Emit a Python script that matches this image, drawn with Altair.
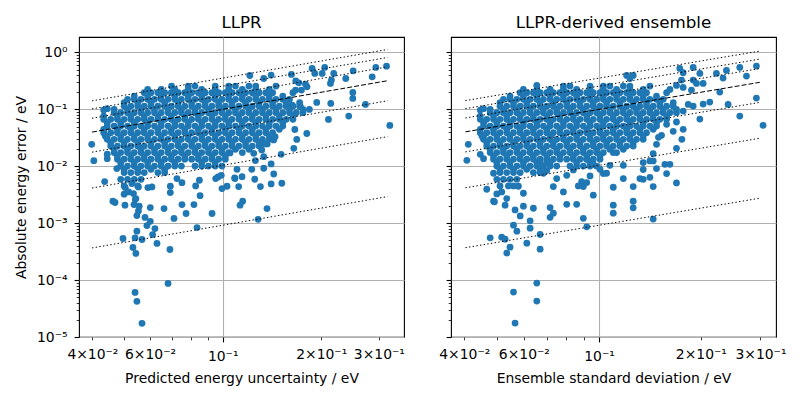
import altair as alt
import pandas as pd

BLUE = "#1f77b4"
FONT = "DejaVu Sans"

# ---------------- data ----------------
# dense core of the cloud, row by row: one error value per row,
# with the uncertainties of the points on that row (LLPR / ensemble)
BLOB_ERR = [0.257, 0.196, 0.150, 0.114, 0.0874, 0.0668, 0.051, 0.039,
            0.0298, 0.0227, 0.0174, 0.0133, 0.0101, 0.00774, 0.00591, 0.00452,
            0.2243, 0.1713, 0.1309, 0.1, 0.0764, 0.0584, 0.0446, 0.034,
            0.026, 0.0199, 0.0152, 0.0116, 0.00886]

BLOB_LLPR = [
    [0.0785, 0.0823, 0.0949, 0.1043, 0.1094, 0.1203, 0.1262, 0.1455],
    [0.0576, 0.0604, 0.0634, 0.0665, 0.0697, 0.0731, 0.0766, 0.0804, 0.0843, 0.0884, 0.0927, 0.0972, 0.1019, 0.1068, 0.1121, 0.1175, 0.1232, 0.1292, 0.1355, 0.1421, 0.1639],
    [0.0512, 0.0537, 0.0563, 0.0590, 0.0619, 0.0649, 0.0681, 0.0714, 0.0748, 0.0785, 0.0823, 0.0863, 0.0905, 0.0949, 0.0995, 0.1043, 0.1094, 0.1148, 0.1203, 0.1262, 0.1323, 0.1388, 0.1455, 0.1526, 0.1600],
    [0.0500, 0.0524, 0.0550, 0.0576, 0.0604, 0.0634, 0.0665, 0.0697, 0.0731, 0.0766, 0.0804, 0.0843, 0.0884, 0.0927, 0.0972, 0.1019, 0.1068, 0.1121, 0.1175, 0.1232, 0.1292, 0.1355, 0.1421, 0.1490, 0.1563, 0.1639, 0.1718],
    [0.0466, 0.0488, 0.0512, 0.0537, 0.0563, 0.0590, 0.0619, 0.0649, 0.0681, 0.0714, 0.0748, 0.0785, 0.0823, 0.0863, 0.0905, 0.0949, 0.0995, 0.1043, 0.1094, 0.1148, 0.1203, 0.1262, 0.1323, 0.1388, 0.1455, 0.1526, 0.1600, 0.1678, 0.1759],
    [0.0433, 0.0455, 0.0477, 0.0500, 0.0524, 0.0550, 0.0576, 0.0604, 0.0634, 0.0665, 0.0697, 0.0731, 0.0766, 0.0804, 0.0843, 0.0884, 0.0927, 0.0972, 0.1019, 0.1068, 0.1121, 0.1175, 0.1232, 0.1292, 0.1355, 0.1421, 0.1490, 0.1563, 0.1639],
    [0.0444, 0.0466, 0.0488, 0.0512, 0.0537, 0.0563, 0.0590, 0.0619, 0.0649, 0.0681, 0.0714, 0.0748, 0.0785, 0.0823, 0.0863, 0.0905, 0.0949, 0.0995, 0.1043, 0.1094, 0.1148, 0.1203, 0.1262, 0.1323, 0.1388, 0.1455, 0.1526],
    [0.0433, 0.0455, 0.0477, 0.0500, 0.0524, 0.0550, 0.0576, 0.0604, 0.0634, 0.0665, 0.0697, 0.0731, 0.0766, 0.0804, 0.0843, 0.0884, 0.0927, 0.0972, 0.1019, 0.1068, 0.1121, 0.1175, 0.1232, 0.1292, 0.1355, 0.1421],
    [0.0444, 0.0466, 0.0488, 0.0512, 0.0537, 0.0563, 0.0590, 0.0619, 0.0649, 0.0681, 0.0714, 0.0748, 0.0785, 0.0823, 0.0863, 0.0905, 0.0949, 0.0995, 0.1043, 0.1094, 0.1148, 0.1203, 0.1262, 0.1323, 0.1388],
    [0.0455, 0.0477, 0.0500, 0.0524, 0.0550, 0.0576, 0.0604, 0.0634, 0.0665, 0.0697, 0.0731, 0.0766, 0.0804, 0.0843, 0.0884, 0.0927, 0.0972, 0.1019, 0.1068, 0.1121, 0.1175, 0.1232, 0.1292],
    [0.0466, 0.0488, 0.0512, 0.0537, 0.0563, 0.0590, 0.0619, 0.0649, 0.0681, 0.0714, 0.0748, 0.0785, 0.0823, 0.0863, 0.0905, 0.0949, 0.0995, 0.1043, 0.1148],
    [0.0477, 0.0500, 0.0524, 0.0550, 0.0576, 0.0604, 0.0634, 0.0665, 0.0697, 0.0731, 0.0766, 0.0804, 0.0843, 0.0884, 0.0927, 0.0972, 0.1019],
    [0.0488, 0.0512, 0.0537, 0.0563, 0.0590, 0.0619, 0.0649, 0.0681, 0.0714, 0.0748, 0.0823, 0.0863, 0.0905, 0.0949, 0.0995],
    [0.0500, 0.0524, 0.0550, 0.0576, 0.0634, 0.0665],
    [0.0488, 0.0512, 0.0537, 0.0563],
    [0.0500, 0.0550],
    [0.0590, 0.0649, 0.0714, 0.0785, 0.0863, 0.0949, 0.1043, 0.1148, 0.1262, 0.1388],
    [0.0537, 0.0590, 0.0649, 0.0714, 0.0785, 0.0863, 0.0949, 0.1043, 0.1148, 0.1262, 0.1388, 0.1526],
    [0.0500, 0.0550, 0.0604, 0.0665, 0.0731, 0.0804, 0.0884, 0.0972, 0.1068, 0.1175, 0.1292, 0.1421, 0.1563, 0.1718],
    [0.0466, 0.0512, 0.0563, 0.0619, 0.0681, 0.0748, 0.0823, 0.0905, 0.0995, 0.1094, 0.1203, 0.1323, 0.1455, 0.1600, 0.1759],
    [0.0433, 0.0477, 0.0524, 0.0576, 0.0634, 0.0697, 0.0766, 0.0843, 0.0927, 0.1019, 0.1121, 0.1232, 0.1355, 0.1490, 0.1639],
    [0.0444, 0.0488, 0.0537, 0.0590, 0.0649, 0.0714, 0.0785, 0.0863, 0.0949, 0.1043, 0.1148, 0.1262, 0.1388, 0.1526],
    [0.0433, 0.0477, 0.0524, 0.0576, 0.0634, 0.0697, 0.0766, 0.0843, 0.0927, 0.1019, 0.1121, 0.1232, 0.1355, 0.1490],
    [0.0444, 0.0488, 0.0537, 0.0590, 0.0649, 0.0714, 0.0785, 0.0863, 0.0949, 0.1043, 0.1148, 0.1262, 0.1388],
    [0.0455, 0.0500, 0.0550, 0.0604, 0.0665, 0.0731, 0.0804, 0.0884, 0.0972, 0.1068, 0.1175, 0.1292],
    [0.0466, 0.0512, 0.0563, 0.0619, 0.0681, 0.0748, 0.0823, 0.0905, 0.0995, 0.1094, 0.1203],
    [0.0477, 0.0524, 0.0576, 0.0634, 0.0697, 0.0766, 0.0843, 0.0927, 0.1019],
    [0.0488, 0.0537, 0.0590, 0.0649, 0.0714, 0.0863, 0.0949],
    [0.0500, 0.0550, 0.0604, 0.0665],
]

BLOB_ENS = [
    [0.0785, 0.0821, 0.0941, 0.1030, 0.1077, 0.1180, 0.1234, 0.1414],
    [0.0585, 0.0612, 0.0640, 0.0670, 0.0701, 0.0733, 0.0767, 0.0803, 0.0840, 0.0879, 0.0920, 0.0962, 0.1007, 0.1053, 0.1102, 0.1153, 0.1207, 0.1262, 0.1321, 0.1382, 0.1584],
    [0.0522, 0.0546, 0.0572, 0.0598, 0.0626, 0.0655, 0.0685, 0.0717, 0.0750, 0.0785, 0.0821, 0.0859, 0.0899, 0.0941, 0.0984, 0.1030, 0.1077, 0.1127, 0.1180, 0.1234, 0.1291, 0.1351, 0.1414, 0.1479, 0.1548],
    [0.0510, 0.0534, 0.0559, 0.0585, 0.0612, 0.0640, 0.0670, 0.0701, 0.0733, 0.0767, 0.0803, 0.0840, 0.0879, 0.0920, 0.0962, 0.1007, 0.1053, 0.1102, 0.1153, 0.1207, 0.1262, 0.1321, 0.1382, 0.1446, 0.1513, 0.1584, 0.1657],
    [0.0477, 0.0499, 0.0522, 0.0546, 0.0572, 0.0598, 0.0626, 0.0655, 0.0685, 0.0717, 0.0750, 0.0785, 0.0821, 0.0859, 0.0899, 0.0941, 0.0984, 0.1030, 0.1077, 0.1127, 0.1180, 0.1234, 0.1291, 0.1351, 0.1414, 0.1479, 0.1548, 0.1620, 0.1694],
    [0.0446, 0.0466, 0.0488, 0.0510, 0.0534, 0.0559, 0.0585, 0.0612, 0.0640, 0.0670, 0.0701, 0.0733, 0.0767, 0.0803, 0.0840, 0.0879, 0.0920, 0.0962, 0.1007, 0.1053, 0.1102, 0.1153, 0.1207, 0.1262, 0.1321, 0.1382, 0.1446, 0.1513, 0.1584],
    [0.0456, 0.0477, 0.0499, 0.0522, 0.0546, 0.0572, 0.0598, 0.0626, 0.0655, 0.0685, 0.0717, 0.0750, 0.0785, 0.0821, 0.0859, 0.0899, 0.0941, 0.0984, 0.1030, 0.1077, 0.1127, 0.1180, 0.1234, 0.1291, 0.1351, 0.1414, 0.1479],
    [0.0446, 0.0466, 0.0488, 0.0510, 0.0534, 0.0559, 0.0585, 0.0612, 0.0640, 0.0670, 0.0701, 0.0733, 0.0767, 0.0803, 0.0840, 0.0879, 0.0920, 0.0962, 0.1007, 0.1053, 0.1102, 0.1153, 0.1207, 0.1262, 0.1321, 0.1382],
    [0.0456, 0.0477, 0.0499, 0.0522, 0.0546, 0.0572, 0.0598, 0.0626, 0.0655, 0.0685, 0.0717, 0.0750, 0.0785, 0.0821, 0.0859, 0.0899, 0.0941, 0.0984, 0.1030, 0.1077, 0.1127, 0.1180, 0.1234, 0.1291, 0.1351],
    [0.0466, 0.0488, 0.0510, 0.0534, 0.0559, 0.0585, 0.0612, 0.0640, 0.0670, 0.0701, 0.0733, 0.0767, 0.0803, 0.0840, 0.0879, 0.0920, 0.0962, 0.1007, 0.1053, 0.1102, 0.1153, 0.1207, 0.1262],
    [0.0477, 0.0499, 0.0522, 0.0546, 0.0572, 0.0598, 0.0626, 0.0655, 0.0685, 0.0717, 0.0750, 0.0785, 0.0821, 0.0859, 0.0899, 0.0941, 0.0984, 0.1030, 0.1127],
    [0.0488, 0.0510, 0.0534, 0.0559, 0.0585, 0.0612, 0.0640, 0.0670, 0.0701, 0.0733, 0.0767, 0.0803, 0.0840, 0.0879, 0.0920, 0.0962, 0.1007],
    [0.0499, 0.0522, 0.0546, 0.0572, 0.0598, 0.0626, 0.0655, 0.0685, 0.0717, 0.0750, 0.0821, 0.0859, 0.0899, 0.0941, 0.0984],
    [0.0510, 0.0534, 0.0559, 0.0585, 0.0640, 0.0670],
    [0.0499, 0.0522, 0.0546, 0.0572],
    [0.0510, 0.0559],
    [0.0598, 0.0655, 0.0717, 0.0785, 0.0859, 0.0941, 0.1030, 0.1127, 0.1234, 0.1351],
    [0.0546, 0.0598, 0.0655, 0.0717, 0.0785, 0.0859, 0.0941, 0.1030, 0.1127, 0.1234, 0.1351, 0.1479],
    [0.0510, 0.0559, 0.0612, 0.0670, 0.0733, 0.0803, 0.0879, 0.0962, 0.1053, 0.1153, 0.1262, 0.1382, 0.1513, 0.1657],
    [0.0477, 0.0522, 0.0572, 0.0626, 0.0685, 0.0750, 0.0821, 0.0899, 0.0984, 0.1077, 0.1180, 0.1291, 0.1414, 0.1548, 0.1694],
    [0.0446, 0.0488, 0.0534, 0.0585, 0.0640, 0.0701, 0.0767, 0.0840, 0.0920, 0.1007, 0.1102, 0.1207, 0.1321, 0.1446, 0.1584],
    [0.0456, 0.0499, 0.0546, 0.0598, 0.0655, 0.0717, 0.0785, 0.0859, 0.0941, 0.1030, 0.1127, 0.1234, 0.1351, 0.1479],
    [0.0446, 0.0488, 0.0534, 0.0585, 0.0640, 0.0701, 0.0767, 0.0840, 0.0920, 0.1007, 0.1102, 0.1207, 0.1321, 0.1446],
    [0.0456, 0.0499, 0.0546, 0.0598, 0.0655, 0.0717, 0.0785, 0.0859, 0.0941, 0.1030, 0.1127, 0.1234, 0.1351],
    [0.0466, 0.0510, 0.0559, 0.0612, 0.0670, 0.0733, 0.0803, 0.0879, 0.0962, 0.1053, 0.1153, 0.1262],
    [0.0477, 0.0522, 0.0572, 0.0626, 0.0685, 0.0750, 0.0821, 0.0899, 0.0984, 0.1077, 0.1180],
    [0.0488, 0.0534, 0.0585, 0.0640, 0.0701, 0.0767, 0.0840, 0.0920, 0.1007],
    [0.0499, 0.0546, 0.0598, 0.0655, 0.0717, 0.0859, 0.0941],
    [0.0510, 0.0559, 0.0612, 0.0670],
]

# scattered points outside the dense core: (uncertainty, absolute error)
LLPR_SPARSE = [
    (0.121, 0.394), (0.1335, 0.349), (0.1406, 0.400), (0.1622, 0.411), (0.1672, 0.318),
    (0.1708, 0.293), (0.1876, 0.523), (0.1911, 0.428), (0.2013, 0.428), (0.205, 0.545),
    (0.2184, 0.428), (0.2134, 0.286), (0.2149, 0.327), (0.2377, 0.349), (0.2504, 0.476),
    (0.2862, 0.374), (0.2937, 0.545), (0.3166, 0.575), (0.2498, 0.1985), (0.2498, 0.1557),
    (0.273, 0.1222), (0.2139, 0.1272), (0.1938, 0.1325), (0.2104, 0.0667), (0.2427, 0.0764),
    (0.324, 0.0523), (0.1807, 0.0377), (0.1661, 0.0443), (0.1684, 0.0297), (0.1649, 0.0207),
    (0.1509, 0.0162), (0.1432, 0.029), (0.1446, 0.0331), (0.1368, 0.0247), (0.1335, 0.01473),
    (0.1406, 0.011), (0.1432, 0.00732), (0.1516, 0.00503), (0.1406, 0.0049), (0.1304, 0.0044),
    (0.1253, 0.00592), (0.1335, 0.00923), (0.1227, 0.00885), (0.1146, 0.00658), (0.1088, 0.00623),
    (0.1119, 0.0044), (0.1106, 0.00885), (0.1244, 0.0169), (0.1259, 0.0126), (0.1344, 0.0247),
    (0.1316, 0.0194), (0.179, 0.278), (0.174, 0.218), (0.167, 0.218), (0.181, 0.249),
    (0.184, 0.0999), (0.1729, 0.111), (0.163, 0.119),
    (0.0404, 0.01257), (0.0436, 0.00538), (0.0462, 0.00243), (0.0469, 0.00231), (0.0503, 0.00207),
    (0.0500, 0.00323), (0.0536, 0.00212), (0.0541, 0.0026), (0.0556, 0.00199), (0.0553, 0.00164),
    (0.0547, 0.00136), (0.0579, 0.00126), (0.0601, 0.00108), (0.0587, 0.00091), (0.0621, 0.000805),
    (0.0611, 0.000632), (0.0547, 0.000725), (0.054, 0.000553), (0.0567, 0.000517), (0.0496, 0.000538),
    (0.0532, 0.000374), (0.0543, 0.000294), (0.063, 0.00044), (0.069, 0.000345), (0.0681, 8.75e-5),
    (0.054, 6.08e-5), (0.0547, 4.23e-5), (0.0567, 1.74e-5), (0.0601, 0.00188), (0.0662, 0.00181),
    (0.071, 0.00121), (0.0751, 0.00212), (0.0773, 0.00148), (0.0817, 0.00212), (0.0835, 0.000839),
    (0.0928, 0.00148), (0.0853, 0.00305), (0.0692, 0.00446), (0.0692, 0.00345), (0.0591, 0.00423),
    (0.0608, 0.00434), (0.0995, 0.00405), (0.1031, 0.00446), (0.0952, 0.00608), (0.0968, 0.0065),
    (0.099, 0.00695), (0.109, 0.00608), (0.1151, 0.00243), (0.113, 0.00207), (0.1366, 0.00181),
    (0.1283, 0.00117), (0.1053, 0.01714), (0.0849, 0.00568), (0.0827, 0.00452), (0.0751, 0.00516),
    (0.0725, 0.00608), (0.0504, 0.00423), (0.0516, 0.00355), (0.0534, 0.00331), (0.0543, 0.00271),
    (0.0528, 0.00496), (0.0553, 0.00434), (0.0475, 0.0091), (0.0444, 0.0163),
    (0.0398, 0.0243), (0.0444, 0.0136), (0.0438, 0.034), (0.0433, 0.0973), (0.0444, 0.1027),
    (0.0698, 0.256),
]

ENS_SPARSE = [
    (0.1733, 0.524), (0.1773, 0.440), (0.1898, 0.5455), (0.1986, 0.428), (0.1753, 0.327),
    (0.1898, 0.327), (0.1941, 0.2858), (0.2031, 0.2858), (0.1773, 0.2432), (0.1694, 0.2637),
    (0.1620, 0.2243), (0.1876, 0.2184), (0.2223, 0.428), (0.2380, 0.483), (0.2326, 0.3546),
    (0.2606, 0.5455), (0.2727, 0.384), (0.2918, 0.576), (0.2274, 0.2014), (0.2918, 0.158),
    (0.2407, 0.1224), (0.2606, 0.0764), (0.3053, 0.0524), (0.1986, 0.0677), (0.2031, 0.124),
    (0.2125, 0.1345), (0.1898, 0.1144), (0.1835, 0.1224), (0.1773, 0.0935), (0.1694, 0.060),
    (0.1584, 0.0546), (0.1773, 0.0446), (0.1757, 0.0298), (0.1694, 0.0207), (0.1657, 0.0411),
    (0.1530, 0.035), (0.1499, 0.0323), (0.1479, 0.0243), (0.1446, 0.0167), (0.1446, 0.0124),
    (0.1414, 0.0124), (0.1351, 0.0116), (0.1351, 0.00874), (0.1479, 0.0091), (0.1566, 0.01084),
    (0.1620, 0.01084), (0.1584, 0.00744), (0.1694, 0.0051), (0.1414, 0.00641), (0.1446, 0.0044),
    (0.1351, 0.00591), (0.1321, 0.00608), (0.1262, 0.0044), (0.1262, 0.00243), (0.1262, 0.00186),
    (0.1446, 0.00118), (0.1102, 0.00428), (0.1102, 0.00207), (0.1102, 0.0015), (0.1180, 0.00608),
    (0.1180, 0.0104), (0.1102, 0.0174), (0.1077, 0.0104), (0.1053, 0.00754), (0.1030, 0.00744),
    (0.1007, 0.00886), (0.0962, 0.0031), (0.0941, 0.00677), (0.0920, 0.00517), (0.0889, 0.00538),
    (0.0899, 0.0044), (0.0869, 0.00452), (0.0859, 0.00215), (0.0803, 0.00215), (0.0785, 0.00355),
    (0.0733, 0.0044), (0.0750, 0.00608), (0.0803, 0.00695), (0.0840, 0.00862), (0.0920, 0.0133),
    (0.0962, 0.01084), (0.0701, 0.0116), (0.0670, 0.0119), (0.0701, 0.0084), (0.0685, 0.00754),
    (0.0640, 0.00183), (0.0717, 0.00188), (0.0717, 0.00127), (0.0733, 0.0015), (0.0899, 0.00122),
    (0.0920, 0.000863), (0.0626, 0.0011), (0.0626, 0.000817), (0.0670, 0.000633), (0.0670, 0.00035),
    (0.0612, 0.000446), (0.0572, 0.000724), (0.0559, 0.000923), (0.0516, 0.000568), (0.0528, 0.000524),
    (0.0546, 0.000379), (0.0534, 0.000298), (0.0477, 0.000553), (0.0598, 0.00199), (0.0565, 0.00171),
    (0.0585, 0.00134), (0.0528, 0.00207), (0.0534, 0.00271), (0.0488, 0.00243), (0.0491, 0.00237),
    (0.0499, 0.00327), (0.0466, 0.00395), (0.0516, 0.00355), (0.0540, 0.00452), (0.0578, 0.00446),
    (0.0598, 0.00336), (0.0655, 8.86e-5), (0.0559, 6.16e-5), (0.0655, 4.28e-5), (0.0565, 1.76e-5),
    (0.0407, 0.01274), (0.0411, 0.0243), (0.0446, 0.0162), (0.0456, 0.0136), (0.0488, 0.00754),
    (0.0451, 0.034), (0.0446, 0.0973), (0.0456, 0.1027), (0.0655, 0.2637), (0.1207, 0.395),
    (0.1234, 0.3499), (0.1262, 0.395),
]

# reference lines: error = factor * uncertainty
DOTTED_FACTORS = [3.54, 2.56, 1.75, 0.444, 0.104, 0.0092]
DASHED_FACTORS = [1.0]
LLPR_LINE_X = [0.0399, 0.319]
ENS_LINE_X = [0.0403, 0.2986]

LLPR_XDOMAIN = [0.0364, 0.358]
ENS_XDOMAIN = [0.03654, 0.3334]
Y_DOMAIN = [1e-5, 1.87]

X_TICKS = [0.04, 0.05, 0.06, 0.07, 0.08, 0.09, 0.1, 0.2, 0.3]
Y_TICKS = [k * 10.0 ** e for e in range(-5, 1) for k in range(1, 10) if k * 10.0 ** e <= 1.0]


def points_frame(blob_rows, sparse):
    rows = []
    for err, uncs in zip(BLOB_ERR, blob_rows):
        for u in uncs:
            rows.append({"unc": u, "err": err})
    for u, e in sparse:
        rows.append({"unc": u, "err": e})
    return pd.DataFrame(rows)


def lines_frame(xs, factors):
    rows = []
    for i, f in enumerate(factors):
        for x in xs:
            rows.append({"unc": x, "err": f * x, "k": i})
    return pd.DataFrame(rows)


MAJOR = "abs(log(datum.value)/LN10 - round(log(datum.value)/LN10)) < 0.001"
Y_LABELS = ("(" + MAJOR + ") ? ['10⁰','10⁻¹','10⁻²','10⁻³','10⁻⁴','10⁻⁵']"
            "[-round(log(datum.value)/LN10)] : ''")
X_LABELS = ("abs(datum.value-0.04)<1e-6 ? '4×10⁻²' : abs(datum.value-0.06)<1e-6 ? '6×10⁻²' : "
            "abs(datum.value-0.1)<1e-6 ? '10⁻¹' : abs(datum.value-0.2)<1e-6 ? '2×10⁻¹' : "
            "abs(datum.value-0.3)<1e-6 ? '3×10⁻¹' : ''")

COMMON_AXIS = dict(
    grid=True, gridColor="#b0b0b0", gridWidth=1.1,
    gridOpacity={"condition": {"test": MAJOR, "value": 1}, "value": 0},
    tickSize={"condition": {"test": MAJOR, "value": 4.9}, "value": 2.8},
    tickWidth={"condition": {"test": MAJOR, "value": 1.1}, "value": 0.8},
    tickColor="black", domain=False, labelOverlap=False, labelFlush=False,
    labelFont=FONT, labelFontSize=13.9, labelColor="black",
    titleFont=FONT, titleFontSize=13.9, titleFontWeight="normal", titleColor="black",
)


def x_axis(title):
    return alt.Axis(values=X_TICKS, labelExpr=X_LABELS, title=title, titlePadding=8,
                    labelPadding=8, **COMMON_AXIS)


def y_axis(with_labels):
    if with_labels:
        return alt.Axis(values=Y_TICKS, labelExpr=Y_LABELS, title="Absolute energy error / eV",
                        titlePadding=8, labelPadding=7, **COMMON_AXIS)
    return alt.Axis(values=Y_TICKS, labels=False, title="", **COMMON_AXIS)


def panel(pts, xdomain, line_x, title, xtitle, with_labels):
    x = alt.X("unc:Q", scale=alt.Scale(type="log", domain=xdomain, nice=False), axis=x_axis(xtitle))
    y = alt.Y("err:Q", scale=alt.Scale(type="log", domain=Y_DOMAIN, nice=False), axis=y_axis(with_labels))
    scatter = alt.Chart(pts).mark_circle(size=46, color=BLUE, opacity=1, clip=True).encode(x=x, y=y)
    dotted = alt.Chart(lines_frame(line_x, DOTTED_FACTORS)).mark_line(
        color="black", strokeWidth=1, strokeDash=[1.4, 2.3], clip=True
    ).encode(x=x, y=y, detail="k:N")
    dashed = alt.Chart(lines_frame(line_x, DASHED_FACTORS)).mark_line(
        color="black", strokeWidth=1, strokeDash=[5, 2], clip=True
    ).encode(x=x, y=y, detail="k:N")
    return alt.layer(scatter, dotted, dashed).properties(
        width=325, height=300,
        title=alt.TitleParams(title, font=FONT, fontSize=16.7, fontWeight="normal",
                              color="black", offset=5, anchor="middle"),
    )


left = panel(points_frame(BLOB_LLPR, LLPR_SPARSE), LLPR_XDOMAIN, LLPR_LINE_X,
             "LLPR", "Predicted energy uncertainty / eV", True)
right = panel(points_frame(BLOB_ENS, ENS_SPARSE), ENS_XDOMAIN, ENS_LINE_X,
              "LLPR-derived ensemble", "Ensemble standard deviation / eV", False)

chart = alt.hconcat(left, right, spacing=33).properties(
    padding={"left": 13, "top": 14, "right": 5, "bottom": 5}
).configure(
    background="white",
    view=alt.ViewConfig(stroke="black", strokeWidth=1.1),
)

chart.save("out.html", embed_options={"renderer": "svg", "actions": False})
